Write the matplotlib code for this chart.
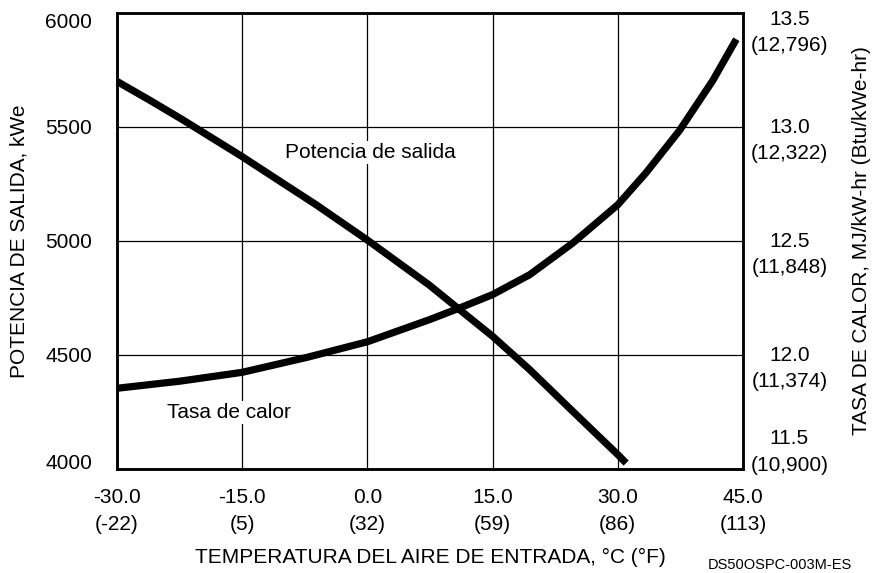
import matplotlib
matplotlib.use("Agg")
import matplotlib.pyplot as plt
import matplotlib.transforms as mtransforms

plt.rcParams['font.family'] = ['Liberation Sans', 'DejaVu Sans']

# Data
power_temp = [-30.0, -26.1, -22.1, -15.0, -10.1, -6.1, 0.0, 7.44, 11.04, 15.0, 19.44, 24.6, 30.0, 31.0]
power_kwe = [5700, 5618, 5531, 5370, 5253, 5158, 5004, 4806, 4699, 4582, 4436, 4253, 4063, 4026]

heat_temp = [-30.0, -22.5, -15.0, -7.2, 0.0, 7.44, 11.04, 15.0, 19.44, 24.6, 30.0, 33.4, 37.4, 41.4, 44.2]
heat_rate = [11.854, 11.885, 11.924, 11.99, 12.058, 12.155, 12.206, 12.265, 12.352, 12.491,
             12.659, 12.80, 12.985, 13.205, 13.385]

x_ticks = [-30, -15, 0, 15, 30, 45]
x_labels = ["-30.0\n(-22)", "-15.0\n(5)", "0.0\n(32)", "15.0\n(59)", "30.0\n(86)", "45.0\n(113)"]
left_ticks = [4000, 4500, 5000, 5500, 6000]
right_ticks = [11.5, 12.0, 12.5, 13.0, 13.5]
right_labels = ["11.5\n(10,900)", "12.0\n(11,374)", "12.5\n(11,848)", "13.0\n(12,322)", "13.5\n(12,796)"]

FS = 15
LS = 1.5

fig = plt.figure(figsize=(8.82, 5.73), dpi=100)
ax = fig.add_axes([117/882, 1-469/573, (743-117)/882, (469-13)/573])
ax2 = ax.twinx()

ax.set_xlim(-30, 45)
ax.set_ylim(4000, 6000)
ax2.set_ylim(11.5, 13.5)

ax.set_xticks(x_ticks)
ax.set_xticklabels(x_labels, fontsize=FS, linespacing=LS)
ax.set_yticks(left_ticks)
ax.set_yticklabels([str(v) for v in left_ticks], fontsize=FS)
ax.tick_params(axis='both', length=0)
ax.tick_params(axis='x', pad=14)
ax.tick_params(axis='y', pad=18)
ylabs = ax.get_yticklabels()
ylabs[0].set_va('baseline')
ylabs[-1].set_va('top')

ax.grid(True, color='black', linewidth=0.9)
ax.set_axisbelow(True)

ax2.set_yticks(right_ticks)
ax2.set_yticklabels([])
ax2.tick_params(axis='y', length=0)

trans = mtransforms.blended_transform_factory(ax2.transAxes, ax2.transData)
for v, lab in zip(right_ticks, right_labels):
    if v == right_ticks[0]:
        va, dy = 'bottom', -6
    elif v == right_ticks[-1]:
        va, dy = 'top', 3
    else:
        va, dy = 'top', 9
    t = ax2.text(1.074, v, lab, ha='center', va=va, fontsize=FS, linespacing=LS)
    t.set_transform(trans + mtransforms.ScaledTranslation(0, dy/100, fig.dpi_scale_trans))

for a in (ax, ax2):
    for s in a.spines.values():
        s.set_linewidth(1.8)
        s.set_color('black')

ax.plot(power_temp, power_kwe, color='black', linewidth=5.2, solid_capstyle='butt',
        solid_joinstyle='round', zorder=3)
ax2.plot(heat_temp, heat_rate, color='black', linewidth=5.2, solid_capstyle='butt',
         solid_joinstyle='round', zorder=3)

ax.text(0.3, 5388, "Potencia de salida", ha='center', va='center', fontsize=FS,
        bbox=dict(facecolor='white', edgecolor='none', pad=1.5), zorder=4)
ax.text(-16.6, 4246, "Tasa de calor", ha='center', va='center', fontsize=FS,
        bbox=dict(facecolor='white', edgecolor='none', pad=1.5), zorder=4)

ax.set_xlabel("TEMPERATURA DEL AIRE DE ENTRADA, °C (°F)", fontsize=FS, labelpad=10)
ax.set_ylabel("POTENCIA DE SALIDA, kWe", fontsize=FS, labelpad=12)
ax2.set_ylabel("TASA DE CALOR, MJ/kW-hr (Btu/kWe-hr)", fontsize=FS, labelpad=75)

fig.text(708/882, 1/573, "DS50OSPC-003M-ES", fontsize=10.5, ha='left', va='bottom')

fig.savefig("out.png", dpi=100)
